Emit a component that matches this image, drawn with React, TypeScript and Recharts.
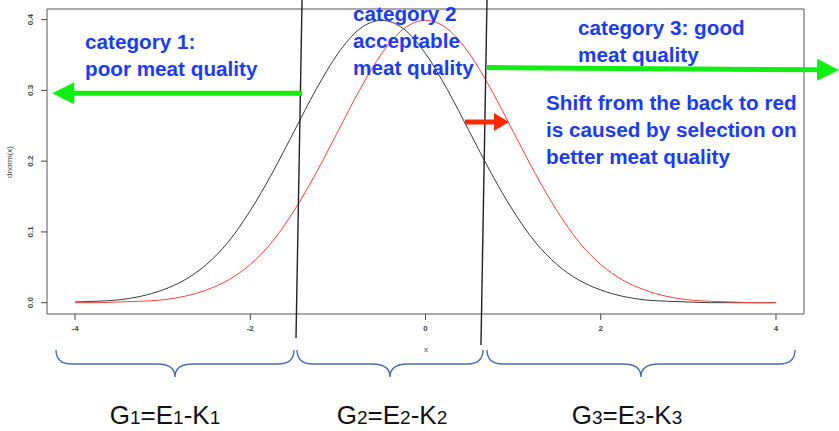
import React from 'react';
import { LineChart, Line, XAxis, YAxis, ReferenceArea, ReferenceLine } from 'recharts';

// values (x grid and the two density curves)
const xValues = [
  -4, -3.75, -3.5, -3.25, -3, -2.75, -2.5, -2.25, -2, -1.75, -1.5, -1.25, -1, -0.75, -0.5, -0.25,
  0, 0.25, 0.5, 0.75, 1, 1.25, 1.5, 1.75, 2, 2.25, 2.5, 2.75, 3, 3.25, 3.5, 3.75, 4
];
const blackCurve = [
  0.001, 0.002, 0.004, 0.009, 0.018, 0.032, 0.054, 0.086, 0.13, 0.183, 0.242, 0.301, 0.352, 0.387, 0.399, 0.387,
  0.352, 0.301, 0.242, 0.183, 0.13, 0.086, 0.054, 0.032, 0.018, 0.009, 0.004, 0.002, 0.001, 0.0, 0.0, 0.0, 0.0
];
const redCurve = [
  0.0, 0.0, 0.001, 0.002, 0.004, 0.009, 0.018, 0.032, 0.054, 0.086, 0.13, 0.183, 0.242, 0.301, 0.352, 0.387,
  0.399, 0.387, 0.352, 0.301, 0.242, 0.183, 0.13, 0.086, 0.054, 0.032, 0.018, 0.009, 0.004, 0.002, 0.001, 0.0, 0.0
];
const xTicks = [-4, -2, 0, 2, 4];
const yTicks = [0, 0.1, 0.2, 0.3, 0.4];
const xDomain = [-4.32, 4.32];
const yDomain = [-0.016, 0.415];

// category boundaries (slightly slanted hand-drawn lines) and arrows, in data units
const boundaries = [
  [{ x: -1.409, y: 0.4277 }, { x: -1.478, y: -0.0499 }],
  [{ x: 0.702, y: 0.4277 }, { x: 0.633, y: -0.0598 }],
];
const greenArrows = [
  [{ x: -1.409, y: 0.296 }, { x: -4.26, y: 0.296 }],
  [{ x: 0.702, y: 0.3323 }, { x: 4.72, y: 0.3288 }],
];
const redArrow = [{ x: 0.451, y: 0.2553 }, { x: 0.953, y: 0.2553 }];

const braces = [
  { from: 56, to: 294, tip: 175 },
  { from: 297, to: 483, tip: 390 },
  { from: 487, to: 795, tip: 641 },
];
const groupLabels = [
  { g: '1', cx: 165 },
  { g: '2', cx: 392 },
  { g: '3', cx: 627 },
];

const data = xValues.map((x, i) => ({ x, black: blackCurve[i], red: redCurve[i] }));

const BLUE = '#1a3cf7';
const FONT = '"Liberation Sans", Arial, Helvetica, sans-serif';

function arrowShape(color: string, width: number, headLen: number, headHalf: number) {
  return (props: any) => {
    const { x1, y1, x2, y2 } = props;
    const dx = x2 - x1;
    const dy = y2 - y1;
    const len = Math.sqrt(dx * dx + dy * dy) || 1;
    const ux = dx / len;
    const uy = dy / len;
    const bx = x2 - ux * headLen;
    const by = y2 - uy * headLen;
    const pts = [
      `${x2},${y2}`,
      `${bx - uy * headHalf},${by + ux * headHalf}`,
      `${bx + uy * headHalf},${by - ux * headHalf}`,
    ].join(' ');
    return (
      <g>
        <line x1={x1} y1={y1} x2={bx + ux} y2={by + uy} stroke={color} strokeWidth={width} />
        <polygon points={pts} fill={color} />
      </g>
    );
  };
}

const XTick = ({ x, y, payload }: any) => (
  <text x={x} y={y + 9} textAnchor="middle" fontSize={8} fontWeight="bold" fill="#444" fontFamily={FONT}>
    {payload.value}
  </text>
);

const YTick = ({ x, y, payload }: any) => (
  <text
    x={x - 6}
    y={y}
    textAnchor="middle"
    fontSize={8}
    fontWeight="bold"
    fill="#444"
    fontFamily={FONT}
    transform={`rotate(-90, ${x - 6}, ${y})`}
  >
    {payload.value.toFixed(1)}
  </text>
);

function bracePath(a: number, b: number, m: number) {
  const top = 350;
  const mid = 364;
  const tip = 377;
  return `M${a},${top} Q${a},${mid} ${a + 16},${mid} L${m - 18},${mid} Q${m},${mid} ${m},${tip} Q${m},${mid} ${m + 18},${mid} L${b - 16},${mid} Q${b},${mid} ${b},${top}`;
}

export default function App() {
  return (
    <div style={{ position: 'absolute', left: 0, top: 0, width: 839, height: 431, background: '#fff' }}>
      <LineChart width={839} height={431} data={data} margin={{ top: 9, right: 35, left: 17, bottom: 87 }}>
        <XAxis
          type="number"
          dataKey="x"
          domain={xDomain}
          ticks={xTicks}
          allowDataOverflow
          axisLine={false}
          tickSize={6}
          tickLine={{ stroke: '#444' }}
          tick={<XTick />}
          height={30}
        />
        <YAxis
          type="number"
          domain={yDomain}
          ticks={yTicks}
          allowDataOverflow
          axisLine={false}
          tickSize={6}
          tickLine={{ stroke: '#444' }}
          tick={<YTick />}
          width={30}
        />
        <ReferenceArea x1={xDomain[0]} x2={xDomain[1]} y1={yDomain[0]} y2={yDomain[1]} fill="none" stroke="#555" strokeWidth={1} />
        <Line type="monotone" dataKey="black" stroke="#3a3a3a" strokeWidth={1} dot={false} isAnimationActive={false} />
        <Line type="monotone" dataKey="red" stroke="#ff4040" strokeWidth={1} dot={false} isAnimationActive={false} />
        {boundaries.map((seg, i) => (
          <ReferenceLine key={`b${i}`} segment={seg} stroke="#222" strokeWidth={1.4} ifOverflow="visible" />
        ))}
        {greenArrows.map((seg, i) => (
          <ReferenceLine key={`g${i}`} segment={seg} ifOverflow="visible" shape={arrowShape('#11ee11', 5, 22, 11)} />
        ))}
        <ReferenceLine segment={redArrow} ifOverflow="visible" shape={arrowShape('#ff2a00', 5, 15, 9)} />
      </LineChart>
      <svg width={839} height={431} style={{ position: 'absolute', left: 0, top: 0, pointerEvents: 'none' }}>
        <text x={12} y={162} fontSize={8} fill="#444" fontFamily={FONT} textAnchor="middle" transform="rotate(-90, 12, 162)">
          dnorm(x)
        </text>
        <text x={426} y={352} fontSize={8} fill="#444" fontFamily={FONT} textAnchor="middle">x</text>
        <g fontFamily={FONT} fontWeight="bold" fontSize={20.7} fill={BLUE}>
          <text x={85} y={49}>category 1:</text>
          <text x={85} y={76}>poor meat quality</text>
          <text x={353} y={21}>category 2</text>
          <text x={353} y={48}>acceptable</text>
          <text x={353} y={75}>meat quality</text>
          <text x={578} y={35}>category 3: good</text>
          <text x={578} y={62}>meat quality</text>
          <text x={546} y={110}>Shift from the back to red</text>
          <text x={546} y={137}>is caused by selection on</text>
          <text x={546} y={164}>better meat quality</text>
        </g>
        {braces.map((b, i) => (
          <path key={i} d={bracePath(b.from, b.to, b.tip)} fill="none" stroke="#4a6db0" strokeWidth={1.4} />
        ))}
        {groupLabels.map((l) => (
          <text key={l.g} x={l.cx} y={424} textAnchor="middle" fontFamily={FONT} fontSize={26} fill="#111">
            G<tspan fontSize={19}>{l.g}</tspan>=E<tspan fontSize={19}>{l.g}</tspan>-K<tspan fontSize={19}>{l.g}</tspan>
          </text>
        ))}
      </svg>
    </div>
  );
}
